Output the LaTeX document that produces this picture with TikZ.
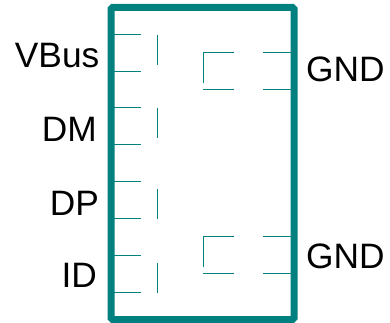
\documentclass[tikz,border=0pt]{standalone}
\usepackage{fontspec}
\setmainfont{Liberation Sans}
\definecolor{chipteal}{HTML}{00807E}
\tikzset{
  pinline/.style={draw=chipteal, line width=1pt},
  pinlabel/.style={inner sep=0pt, font=\fontsize{35.3}{40}\selectfont},
}
\begin{document}
\begin{tikzpicture}[x=1pt, y=-1pt]
    \useasboundingbox (0, 0) rectangle (390, 323);
    % body
    \node (chip) [draw=chipteal, line width=7pt, rounded corners=1.5pt, outer sep=0pt,
      minimum width=183pt, minimum height=312pt] at (202.5, 163.5) {};
    % left pins
    \foreach \n/\ya/\yb/\yc in {1/35/72/65, 2/108/145/138, 3/181.5/218.5/219, 4/255.5/292.5/292.5} {
      \coordinate (a\n) at (111, \ya);
      \coordinate (b\n) at (141, \ya);
      \coordinate (c\n) at (111, \yb);
      \coordinate (d\n) at (141, \yb);
      \draw [pinline] (a\n) -- (b\n);
      \draw [pinline] (c\n) -- (d\n);
      \coordinate (e\n) at (157.5, \yc - 30);
      \coordinate (f\n) at (157.5, \yc);
      \draw [pinline] (e\n) -- (f\n);
    }
    % right pins
    \foreach \n/\ya in {1/53, 2/236} {
      \coordinate (g\n) at (203, \ya);
      \coordinate (h\n) at (233.5, \ya);
      \coordinate (i\n) at (203, \ya + 30.5);
      \coordinate (j\n) at (203, \ya + 37);
      \coordinate (k\n) at (233.5, \ya + 37);
      \coordinate (l\n) at (262.5, \ya);
      \coordinate (m\n) at (294, \ya);
      \coordinate (n\n) at (262.5, \ya + 37);
      \coordinate (o\n) at (294, \ya + 37);
      \draw [pinline] (i\n) -- (g\n) -- (h\n);
      \draw [pinline] (j\n) -- (k\n);
      \draw [pinline] (l\n) -- (m\n);
      \draw [pinline] (n\n) -- (o\n);
    }
    % labels
    \node (vbus) [pinlabel, anchor=base east] at (99.5, 67.3) {VBus};
    \node (dm)   [pinlabel, anchor=base east] at (97, 141.7) {DM};
    \node (dp)   [pinlabel, anchor=base east] at (99, 215.7) {DP};
    \node (id)   [pinlabel, anchor=base east] at (97, 287.5) {ID};
    \node (gnda) [pinlabel, anchor=base west] at (306, 82) {GND};
    \node (gndb) [pinlabel, anchor=base west] at (306, 268.5) {GND};
  \end{tikzpicture}
\end{document}
